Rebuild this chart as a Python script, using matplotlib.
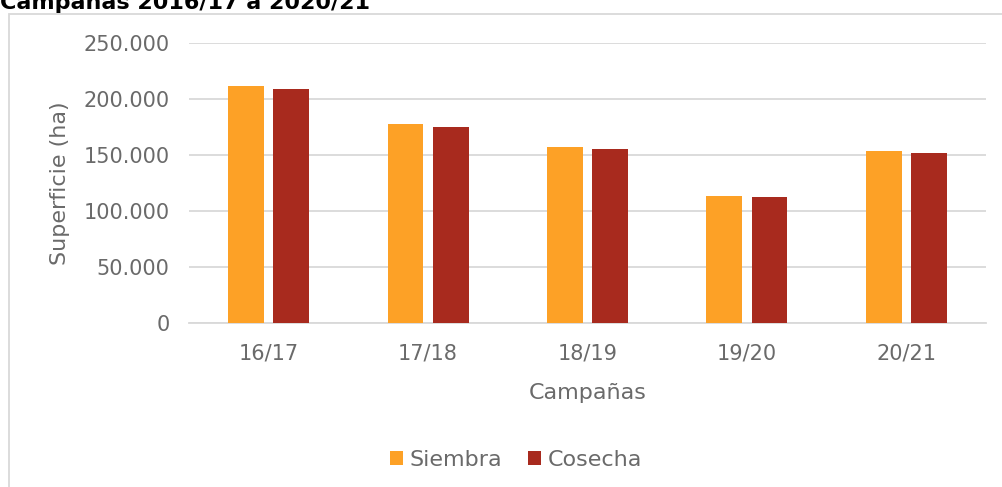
import matplotlib
matplotlib.use('Agg')
import matplotlib.pyplot as plt
import numpy as np
from matplotlib.patches import Rectangle
from matplotlib.ticker import FuncFormatter

campanas = ['16/17', '17/18', '18/19', '19/20', '20/21']
siembra = [211600, 177700, 157100, 113100, 153900]
cosecha = [209200, 175300, 155400, 112200, 151500]

plt.rcParams['font.family'] = ['DejaVu Sans']
gris = '#6a6a6a'

fig = plt.figure(figsize=(10.03, 4.87), dpi=100)
ax = fig.add_axes([189 / 1003, 1 - 323 / 487, 797 / 1003, 280 / 487])

x = np.arange(len(campanas))
w = 0.224
ax.bar(x - 0.142, siembra, w, color='#FDA126', label='Siembra', zorder=3)
ax.bar(x + 0.142, cosecha, w, color='#A82A1E', label='Cosecha', zorder=3)

ax.set_xlim(-0.5, len(campanas) - 0.5)
ax.set_ylim(0, 250000)
ax.set_yticks(range(0, 250001, 50000))
ax.yaxis.set_major_formatter(FuncFormatter(lambda v, p: f'{int(v):,}'.replace(',', '.')))
ax.set_xticks(x)
ax.set_xticklabels(campanas)
ax.grid(axis='y', color='#D9D9D9', linewidth=1.3, zorder=0)
for s in ['top', 'right', 'left']:
    ax.spines[s].set_visible(False)
ax.spines['bottom'].set_color('#D9D9D9')
ax.spines['bottom'].set_linewidth(1.3)
ax.tick_params(length=0, labelsize=15, colors=gris)
ax.tick_params(axis='y', pad=14)
ax.tick_params(axis='x', pad=15)

ax.set_ylabel('Superficie (ha)', fontsize=16, color=gris, labelpad=10)
ax.set_xlabel('Campañas', fontsize=16, color=gris, labelpad=14)

ax.legend(loc='center', bbox_to_anchor=(516 / 1003, 1 - 460 / 487),
          bbox_transform=fig.transFigure, ncol=2, frameon=False,
          fontsize=16, labelcolor=gris, handlelength=0.55, handleheight=0.55,
          handletextpad=0.3, columnspacing=1.2)

# marco del grafico
fig.add_artist(Rectangle((9.5 / 1003, -0.05), 1.1, 1 - 14 / 487 + 0.05,
                         transform=fig.transFigure, fill=False,
                         edgecolor='#D9D9D9', linewidth=1.3))
fig.text(0.0, 1 - 9 / 487, 'Campañas 2016/17 a 2020/21', fontsize=16,
         fontweight='bold', color='black', va='baseline', ha='left')

fig.savefig('out.png', dpi=100, facecolor='white')
